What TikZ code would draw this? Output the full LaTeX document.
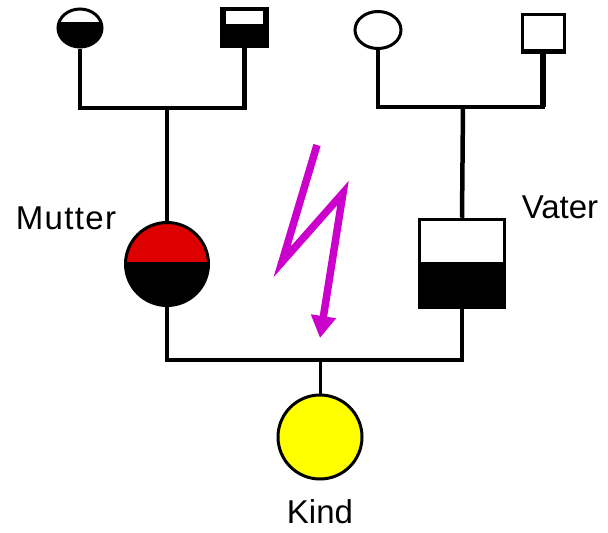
\documentclass[tikz,border=0pt]{standalone}
\usepackage{fontspec}
\setmainfont{Liberation Sans}
\usetikzlibrary{shapes.geometric,arrows.meta}
\definecolor{bolt}{RGB}{204,0,204}
\definecolor{mred}{RGB}{220,0,0}
\definecolor{kyellow}{RGB}{255,255,0}
\tikzset{
  lbl/.style={font=\fontsize{33}{36}\selectfont, anchor=base, inner sep=0pt},
  oval/.style={ellipse, draw=black, line width=3pt, inner sep=0pt},
  box/.style={rectangle, draw=black, line width=3pt, inner sep=0pt},
  link/.style={line width=4.5pt, line cap=butt},
}
\begin{document}
\begin{tikzpicture}[x=1pt,y=-1pt]
\useasboundingbox (0,0) rectangle (608,533);
% grandparents left
\node[oval, minimum width=44pt, minimum height=38pt,
  path picture={\fill[black] (path picture bounding box.south west) rectangle ([yshift=6pt]path picture bounding box.east);}]
  (gm1) at (80,28) {};
\node[box, fill=black, minimum width=46pt, minimum height=38pt,
  path picture={\fill[white] ([xshift=4pt,yshift=-2pt]path picture bounding box.north west) rectangle ([xshift=-5pt,yshift=4pt]path picture bounding box.east);}]
  (gf1) at (244.5,27.5) {};
% grandparents right
\node[oval, fill=white, minimum width=46pt, minimum height=37pt] (gm2) at (378,30) {};
\node[box, fill=white, minimum width=42pt, minimum height=38pt,
  path picture={\fill[black] (path picture bounding box.south west) rectangle ([yshift=3pt]path picture bounding box.south east);}]
  (gf2) at (543,33) {};
% parents
\node[circle, draw=black, line width=3pt, minimum size=83pt, inner sep=0pt,
  path picture={\fill[mred] (path picture bounding box.north west) rectangle ([yshift=2pt]path picture bounding box.east);
                \fill[black] (path picture bounding box.south west) rectangle ([yshift=2pt]path picture bounding box.east);}]
  (mother) at (167,264) {};
\node[box, fill=white, minimum width=85pt, minimum height=88pt, line width=3.5pt,
  path picture={\fill[black] (path picture bounding box.south west) rectangle ([yshift=1.5pt]path picture bounding box.east);}]
  (father) at (462,263.5) {};
% child
\node[circle, draw=black, line width=3pt, fill=kyellow, minimum size=84pt, inner sep=0pt] (child) at (320,437) {};
% labels
\node[lbl] (lm) at (66,229) {\addfontfeature{LetterSpace=4}Mutter};
\node[lbl] (lv) at (560,218) {Vater};
\node[lbl] (lk) at (320,523) {Kind};
% connectors
\coordinate (c1) at (167,108);
\coordinate (c2) at (463,107);
\coordinate (c3) at (320,360);
\draw[link] (gm1.south) |- (c1) -| (gf1.south);
\draw[link] (c1) -- (mother.north);
\draw[link] (gm2.south) |- (c2) -| (gf2.south);
\draw[line width=6pt] (gf2.south) -- (gf2.south |- c2);
\draw[link] (c2) -- (father.north);
\draw[line width=3.5pt] (mother.south) |- (c3) -| (father.south);
\draw[line width=3pt] (c3) -- (child.north);
% lightning
\coordinate (b1) at (317,145);
\coordinate (b2) at (282,262);
\coordinate (b3) at (343,193);
\coordinate (b4) at (320,338);
\draw[bolt, line width=7.5pt, line join=miter, -{Triangle[width=24pt,length=22pt]}] (b1) -- (b2) -- (b3) -- (b4);
\end{tikzpicture}
\end{document}
